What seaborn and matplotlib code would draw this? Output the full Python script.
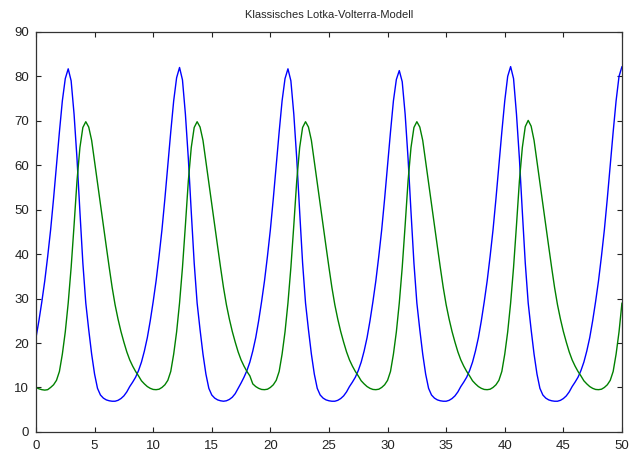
import numpy as np
import pandas as pd
import matplotlib
matplotlib.use("Agg")
import matplotlib.pyplot as plt
import seaborn as sns

# time grid, step 0.25
time = np.linspace(0, 50, 201)

# prey (blue)
prey = [
    21.2, 25.0, 29.3, 34.0, 39.5, 45.5, 52.5, 60.0, 67.5, 74.5, 79.5, 81.7,
    79.0, 71.5, 61.5, 49.5, 38.0, 29.0, 23.0, 17.5, 13.0, 9.8, 8.3, 7.6, 7.2, 7.0, 6.9, 6.9, 7.1, 7.5, 8.1,
    9.0, 10.2, 11.2, 12.3, 13.8, 15.7, 18.2, 21.2, 25.0, 29.3, 34.0, 39.5, 45.5, 52.5, 60.0, 67.5, 74.5, 79.7, 82.0,
    79.2, 71.5, 61.5, 49.5, 38.0, 29.0, 23.0, 17.5, 13.0, 9.8, 8.3, 7.6, 7.2, 7.0, 6.9, 7.0, 7.3, 7.8,
    8.6, 9.8, 11.0, 12.3, 13.8, 15.7, 18.2, 21.2, 25.0, 29.3, 34.0, 39.5, 45.5, 52.5, 60.0, 67.5, 74.5, 79.5, 81.7,
    79.0, 71.5, 61.5, 49.5, 38.0, 29.0, 23.0, 17.5, 13.0, 9.8, 8.3, 7.6, 7.2, 7.0, 6.9, 6.9, 7.1, 7.5, 8.1,
    9.0, 10.2, 11.2, 12.3, 13.8, 15.7, 18.2, 21.2, 25.0, 29.3, 34.0, 39.5, 45.5, 52.5, 60.0, 67.5, 74.5, 79.3, 81.3,
    78.8, 71.5, 61.5, 49.5, 38.0, 29.0, 23.0, 17.5, 13.0, 9.8, 8.3, 7.6, 7.2, 7.0, 6.9, 6.9, 7.1, 7.5, 8.1,
    9.0, 10.2, 11.2, 12.3, 13.8, 15.7, 18.2, 21.2, 25.0, 29.3, 34.0, 39.5, 45.5, 52.5, 60.0, 67.5, 74.5, 80.0, 82.2,
    79.5, 71.5, 61.5, 49.5, 38.0, 29.0, 23.0, 17.5, 13.0, 9.8, 8.3, 7.6, 7.2, 7.0, 6.9, 6.9, 7.1, 7.5, 8.1,
    9.0, 10.2, 11.2, 12.3, 13.8, 15.7, 18.2, 21.2, 25.0, 29.3, 34.0, 39.5, 45.5, 52.5, 60.0, 67.5, 74.5, 80.0, 82.2,
]

# predator (green)
predator = [
    10.0, 9.7, 9.5, 9.4, 9.5, 10.0, 10.6, 11.6, 13.6, 17.5, 22.5, 29.0, 37.0, 46.5, 56.5, 64.0, 68.5, 69.8,
    68.6, 65.6, 60.8, 56.0, 51.3, 46.5, 41.7, 37.0, 32.5, 28.6, 25.4, 22.6, 20.2, 18.0, 16.2, 14.8, 13.6, 12.6, 11.5,
    10.8, 10.2, 9.8, 9.55, 9.5, 9.6, 10.0, 10.6, 11.6, 13.6, 17.5, 22.5, 29.0, 37.0, 46.5, 56.5, 64.0, 68.5, 69.8,
    68.6, 65.6, 60.8, 56.0, 51.3, 46.5, 41.7, 37.0, 32.5, 28.6, 25.4, 22.6, 20.2, 18.0, 16.2, 14.8, 13.6, 12.6,
    10.8, 10.2, 9.8, 9.55, 9.5, 9.6, 10.0, 10.6, 11.6, 13.6, 17.5, 22.5, 29.0, 37.0, 46.5, 56.5, 64.0, 68.5, 69.8,
    68.6, 65.6, 60.8, 56.0, 51.3, 46.5, 41.7, 37.0, 32.5, 28.6, 25.4, 22.6, 20.2, 18.0, 16.2, 14.8, 13.6, 12.6, 11.5,
    10.8, 10.2, 9.8, 9.55, 9.5, 9.6, 10.0, 10.6, 11.6, 13.6, 17.5, 22.5, 29.0, 37.0, 46.5, 56.5, 64.0, 68.5, 69.8,
    68.6, 65.6, 60.8, 56.0, 51.3, 46.5, 41.7, 37.0, 32.5, 28.6, 25.4, 22.6, 20.2, 18.0, 16.2, 14.8, 13.6, 12.6, 11.5,
    10.8, 10.2, 9.8, 9.55, 9.5, 9.6, 10.0, 10.6, 11.6, 13.6, 17.5, 22.5, 29.0, 37.0, 46.5, 56.5, 64.0, 68.7, 70.1,
    68.8, 65.6, 60.8, 56.0, 51.3, 46.5, 41.7, 37.0, 32.5, 28.6, 25.4, 22.6, 20.2, 18.0, 16.2, 14.8, 13.6, 12.6, 11.5,
    10.8, 10.2, 9.8, 9.55, 9.5, 9.6, 10.0, 10.6, 11.6, 13.6, 17.5, 22.5, 29.0,
]

x_ticks = list(range(0, 51, 5))
y_ticks = list(range(0, 91, 10))

df = pd.DataFrame({
    "t": np.concatenate([time, time]),
    "value": prey + predator,
    "species": ["prey"] * len(prey) + ["predator"] * len(predator),
})

sns.set_theme(style="ticks")
plt.rcParams["font.family"] = ["Liberation Sans", "DejaVu Sans"]

fig = plt.figure(figsize=(6.29, 4.55), dpi=100)
ax = fig.add_axes([0.0572, 0.0508, 0.9316, 0.879])

sns.lineplot(
    data=df, x="t", y="value", hue="species",
    palette={"prey": "#0000ff", "predator": "#008000"},
    linewidth=1.0, legend=False, ax=ax,
)

ax.set_xlim(0, 50)
ax.set_ylim(0, 90)
ax.set_xticks(x_ticks)
ax.set_yticks(y_ticks)
ax.set_xlabel("")
ax.set_ylabel("")
ax.tick_params(direction="in", length=3.5, width=0.8, top=True, right=True,
               labelsize=9.5, colors="#222222")
ax.tick_params(axis="x", pad=6)
ax.tick_params(axis="y", pad=5)
for s in ax.spines.values():
    s.set_visible(True)
    s.set_linewidth(0.9)
    s.set_color("#333333")

ax.set_title("Klassisches Lotka-Volterra-Modell", fontsize=8, pad=10)

fig.savefig("out.png", dpi=100)
